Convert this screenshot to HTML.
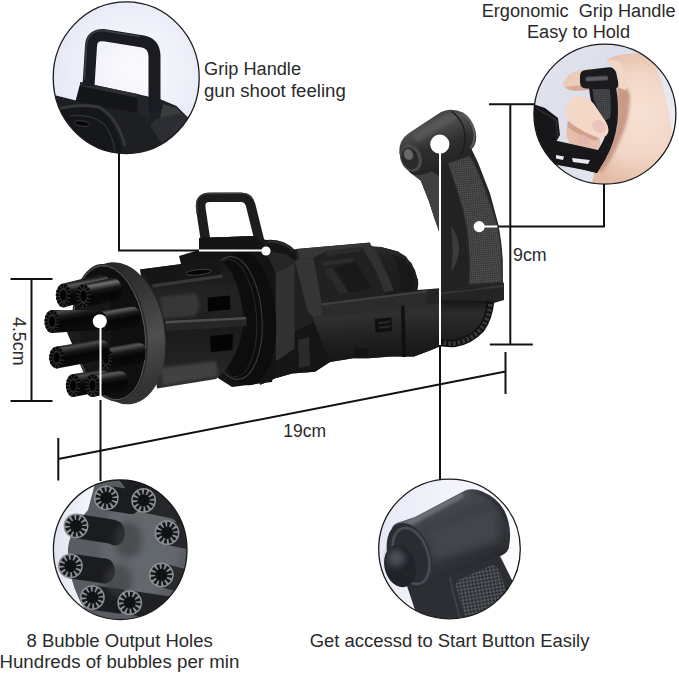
<!DOCTYPE html>
<html><head><meta charset="utf-8">
<style>
html,body{margin:0;padding:0;background:#fff;}
body{width:679px;height:673px;overflow:hidden;position:relative;font-family:"Liberation Sans",sans-serif;}
svg{position:absolute;left:0;top:0;display:block;}
text{font-family:"Liberation Sans",sans-serif;fill:#2a2a2a;}
</style></head><body>
<svg width="679" height="673" viewBox="0 0 679 673">
<defs>
<filter id="b1" x="-20%" y="-20%" width="140%" height="140%"><feGaussianBlur stdDeviation="0.6"/></filter>
<filter id="b2" x="-20%" y="-20%" width="140%" height="140%"><feGaussianBlur stdDeviation="1.5"/></filter>
<filter id="b3" x="-20%" y="-20%" width="140%" height="140%"><feGaussianBlur stdDeviation="3"/></filter>
<filter id="b5" x="-30%" y="-30%" width="160%" height="160%"><feGaussianBlur stdDeviation="5"/></filter>
<linearGradient id="cageG" x1="0" y1="0" x2="0" y2="1"><stop offset="0" stop-color="#1a1a1a"/><stop offset="0.3" stop-color="#2b2b2b"/><stop offset="0.55" stop-color="#202020"/><stop offset="0.8" stop-color="#2a2a2a"/><stop offset="1" stop-color="#383838"/></linearGradient>
<linearGradient id="ringG" x1="0" y1="0" x2="0.2" y2="1"><stop offset="0" stop-color="#242424"/><stop offset="0.35" stop-color="#343434"/><stop offset="0.7" stop-color="#4e4e4e"/><stop offset="1" stop-color="#333"/></linearGradient>
<clipPath id="barClip"><ellipse cx="109.8" cy="332.7" rx="35.1" ry="67.5" transform="rotate(-8 109.8 332.7)"/><rect x="30" y="260" width="80" height="150"/></clipPath>
<linearGradient id="motG" x1="0" y1="0" x2="0" y2="1"><stop offset="0" stop-color="#3c3c3c"/><stop offset="0.25" stop-color="#2c2c2c"/><stop offset="1" stop-color="#242424"/></linearGradient>
<linearGradient id="lowG" x1="0" y1="0" x2="0.1" y2="1"><stop offset="0" stop-color="#3a3a3a"/><stop offset="0.25" stop-color="#3f3f3f"/><stop offset="0.6" stop-color="#2a2a2a"/><stop offset="1" stop-color="#1b1b1b"/></linearGradient>
<linearGradient id="headG" x1="0.3" y1="0" x2="0.7" y2="1"><stop offset="0" stop-color="#3a3a3a"/><stop offset="0.25" stop-color="#505050"/><stop offset="0.55" stop-color="#2e2e2e"/><stop offset="1" stop-color="#1f1f1f"/></linearGradient>
<pattern id="chk" width="3" height="3" patternUnits="userSpaceOnUse" patternTransform="rotate(40)"><rect width="1.5" height="1.5" fill="#2c2c2c"/><rect x="1.5" y="1.5" width="1.5" height="1.5" fill="#2c2c2c"/></pattern>
<linearGradient id="undG" x1="0" y1="0" x2="0" y2="1"><stop offset="0" stop-color="#1c1c1c"/><stop offset="0.3" stop-color="#3a3a3a"/><stop offset="1" stop-color="#262626"/></linearGradient>
<filter id="dk" x="0" y="0" width="1" height="1" color-interpolation-filters="sRGB"><feComponentTransfer><feFuncR type="linear" slope="0.75"/><feFuncG type="linear" slope="0.75"/><feFuncB type="linear" slope="0.75"/></feComponentTransfer></filter>
<filter id="dk2" x="0" y="0" width="1" height="1" color-interpolation-filters="sRGB"><feComponentTransfer><feFuncR type="linear" slope="0.85"/><feFuncG type="linear" slope="0.85"/><feFuncB type="linear" slope="0.85"/></feComponentTransfer></filter>
<linearGradient id="bg7" gradientUnits="userSpaceOnUse" x1="106" y1="347.5" x2="109.96" y2="369.5"><stop offset="0" stop-color="#1c1c1c"/><stop offset="0.13" stop-color="#555"/><stop offset="0.34" stop-color="#1a1a1a"/><stop offset="0.55" stop-color="#060606"/><stop offset="1" stop-color="#0b0b0b"/></linearGradient>
<linearGradient id="bg1" gradientUnits="userSpaceOnUse" x1="63.4" y1="283.4" x2="67.72" y2="307.4"><stop offset="0" stop-color="#1c1c1c"/><stop offset="0.13" stop-color="#5a5a5a"/><stop offset="0.34" stop-color="#1a1a1a"/><stop offset="0.55" stop-color="#060606"/><stop offset="1" stop-color="#0b0b0b"/></linearGradient>
<linearGradient id="bg2" gradientUnits="userSpaceOnUse" x1="83.5" y1="284" x2="87.82" y2="308"><stop offset="0" stop-color="#1c1c1c"/><stop offset="0.13" stop-color="#707070"/><stop offset="0.34" stop-color="#1a1a1a"/><stop offset="0.55" stop-color="#060606"/><stop offset="1" stop-color="#0b0b0b"/></linearGradient>
<linearGradient id="bg8" gradientUnits="userSpaceOnUse" x1="99.5" y1="311.0" x2="103.28" y2="332.0"><stop offset="0" stop-color="#1c1c1c"/><stop offset="0.13" stop-color="#5c5c5c"/><stop offset="0.34" stop-color="#1a1a1a"/><stop offset="0.55" stop-color="#060606"/><stop offset="1" stop-color="#0b0b0b"/></linearGradient>
<linearGradient id="bg3" gradientUnits="userSpaceOnUse" x1="52" y1="310.0" x2="56.14" y2="333.0"><stop offset="0" stop-color="#1c1c1c"/><stop offset="0.13" stop-color="#4c4c4c"/><stop offset="0.34" stop-color="#1a1a1a"/><stop offset="0.55" stop-color="#060606"/><stop offset="1" stop-color="#0b0b0b"/></linearGradient>
<linearGradient id="bg4" gradientUnits="userSpaceOnUse" x1="56.7" y1="346.5" x2="60.660000000000004" y2="368.5"><stop offset="0" stop-color="#1c1c1c"/><stop offset="0.13" stop-color="#4c4c4c"/><stop offset="0.34" stop-color="#1a1a1a"/><stop offset="0.55" stop-color="#060606"/><stop offset="1" stop-color="#0b0b0b"/></linearGradient>
<linearGradient id="bg5" gradientUnits="userSpaceOnUse" x1="73.2" y1="374.0" x2="77.34" y2="397.0"><stop offset="0" stop-color="#1c1c1c"/><stop offset="0.13" stop-color="#4c4c4c"/><stop offset="0.34" stop-color="#1a1a1a"/><stop offset="0.55" stop-color="#060606"/><stop offset="1" stop-color="#0b0b0b"/></linearGradient>
<linearGradient id="bg6" gradientUnits="userSpaceOnUse" x1="92.5" y1="374.0" x2="96.64" y2="397.0"><stop offset="0" stop-color="#1c1c1c"/><stop offset="0.13" stop-color="#585858"/><stop offset="0.34" stop-color="#1a1a1a"/><stop offset="0.55" stop-color="#060606"/><stop offset="1" stop-color="#0b0b0b"/></linearGradient><radialGradient id="c1bg" cx="0.55" cy="0.45" r="0.6"><stop offset="0" stop-color="#fbfbfe"/><stop offset="0.55" stop-color="#eff0f9"/><stop offset="1" stop-color="#e2e5f4"/></radialGradient>
<linearGradient id="c3bg" x1="0" y1="0" x2="1" y2="0"><stop offset="0" stop-color="#dfe2f1"/><stop offset="0.3" stop-color="#f4f5fb"/><stop offset="1" stop-color="#fff"/></linearGradient>
<linearGradient id="c4bg" x1="0" y1="0" x2="1" y2="0.2"><stop offset="0" stop-color="#e4e7f5"/><stop offset="0.5" stop-color="#f3f4fb"/><stop offset="1" stop-color="#fcfcff"/></linearGradient>
<linearGradient id="c4head" gradientUnits="userSpaceOnUse" x1="430" y1="500" x2="462" y2="575"><stop offset="0" stop-color="#565a61"/><stop offset="0.18" stop-color="#43464d"/><stop offset="0.5" stop-color="#373a40"/><stop offset="0.8" stop-color="#303238"/><stop offset="1" stop-color="#26282d"/></linearGradient>
<pattern id="chk4" width="5" height="5" patternUnits="userSpaceOnUse" patternTransform="rotate(35)"><rect width="2.5" height="2.5" fill="#2a2c31"/><rect x="2.5" y="2.5" width="2.5" height="2.5" fill="#2a2c31"/></pattern>
<linearGradient id="c2bg" x1="0" y1="0" x2="1" y2="0.6"><stop offset="0" stop-color="#e2e4ef"/><stop offset="0.5" stop-color="#dcdfeb"/><stop offset="1" stop-color="#eceef6"/></linearGradient>
<radialGradient id="skinG" gradientUnits="userSpaceOnUse" cx="640" cy="115" r="70"><stop offset="0" stop-color="#f7e2d5"/><stop offset="0.6" stop-color="#f2d6c6"/><stop offset="1" stop-color="#e4bba6"/></radialGradient>
</defs>
<rect width="679" height="673" fill="#fff"/>
<g id="gun">
<g filter="url(#dk)">
<!-- rear body silhouette -->
<path fill="#2b2b2b" d="M266 240 L276 242 L293 250 L296 249 L370 242.5 L371 246.5 L381 247 L398 251.5 L411.5 263 L418 280 L417 290 L430 289 L504 283 L504 300 L492 303.5 L488.5 321 L478.5 336 L463 344 L443 346.5 L439 346.8 L430 350.6 L414 356.4 L391 356.4 L368.5 358.3 L353 358.3 L330 362 L315 371.7 L292 373.6 L277 377.5 L260 385 L250 300 Z"/>
<!-- interior behind strap -->
<path fill="#2d2d2d" d="M312 257 L371 247 L385 291 L322 303 Z"/>
<path fill="#3a3a3a" d="M325 251.5 L361 247 L361 251 L327 256 Z"/>
<path fill="#3d3d3d" d="M322 262 L352 258 L353 261.5 L323 266 Z"/>
<path fill="#383838" d="M324 270 L332 268 L348 292 L340 294 Z" filter="url(#b1)"/>
<path fill="#222" d="M334 268 L356 262 L372 288 L350 293 Z" filter="url(#b1)"/>
<!-- top plate -->
<path fill="#484848" d="M297 249 L370 242.8 L370.5 246 L327 251 L313 258 L299 259 Z"/>
<!-- motor housing -->
<path fill="url(#motG)" d="M371 246.5 L381 247 L398 251.5 L406 256.5 L415 270 L418.4 283 L417.2 291.5 L385 295 Z"/>
<path fill="#1f1f1f" d="M392 254 L404 259 L412 271 L414.5 283 L413 290 L400 291 Q402 270 392 254 Z" opacity="0.75"/>
<!-- rear arch band -->
<path fill="#424242" d="M360.7 246.8 L372 245.5 Q382 260 393.7 290.4 L384.2 292.5 Q376 266 360.7 246.8 Z"/>
<!-- rail -->
<path fill="#3a3a3a" d="M321.8 303.3 L427 290.2 L440 291 L440 303 L400.7 305.7 L365.4 310.4 L360.7 315 L321.8 315 Z"/>
<path fill="#555" d="M321.8 303.3 L427 290.2 L427 292.2 L321.8 305.5 Z"/>
<!-- lower cylinder -->
<path fill="url(#lowG)" d="M313.6 318 L321.8 315 L360.7 315 L365.4 310.4 L400.7 305.7 L440 303 L441 346 L430 350.6 L414 356.4 L391 356.4 L368.5 358.3 L353 358.3 L330 362 L318 368 Z"/>
<path fill="#141414" d="M374.8 319 L391.3 317.5 L392 331 L375.5 332.5 Z"/>
<path fill="#333" d="M378 322 L390 320.5 L390.3 323 L378.3 324.5 Z M378.5 326.5 L390.5 325 L390.8 327.5 L378.8 329 Z"/>
<path fill="#161616" d="M401 305.7 L404.5 305.5 L406 357 L402 357 Z"/>
<path fill="#1a1a1a" d="M354 349 L367 348 L368 355.5 L355 357 Z"/>
<!-- behind collar arc -->
<path fill="#1c1c1c" d="M266 240 Q283 238 295 250 L297 262 L286 254 L268 252 Z"/>
<path fill="#383838" d="M268 240.5 Q283 239 294 250 L292.5 251.5 Q283 242 268 243 Z"/>
<!-- strap -->
<path fill="#474747" d="M294.7 261 L299 259 L313.6 258.3 L321.8 303.3 L321.8 315 L314 318 L307.7 311 Z"/>
<!-- lower front of body -->
<path fill="#1d1d1d" d="M277 340 L314 322 L330 362 L315 371.7 L292 373.6 L277 377.5 L262 384 Z"/>
<path fill="#383838" d="M298 340 L309 337 L310 366 L299 368 Z"/>
<!-- base plate -->
<path fill="#303030" d="M427 291 L440.8 292 L503.5 284.5 L503.5 300 L440.8 303.5 L427 305 Z"/>
<path fill="#474747" d="M440.8 292 L503.5 284.5 L503.5 287 L440.8 294.5 Z"/>
<!-- under handle cylinder -->
<path fill="url(#undG)" d="M441 300 L492 301 Q490 320 480 330 Q468 341 441 343 Z"/>
<!-- belt -->
<path fill="none" stroke="#151515" stroke-width="7.5" d="M490.5 302 Q489 318 481 329 Q470 341 455 343.3 Q447 344 441 342"/>
<path fill="none" stroke="#4a4a4a" stroke-width="4.6" stroke-dasharray="2.8 1.9" d="M490.5 304 Q489 318 481 329 Q470 341 455 343.3 Q447 344 442 342"/>
</g>
<!-- ===== rear handle ===== -->
<path fill="#242424" d="M440.5 292 L439.5 233 L434.3 218 L429 201.6 L420.8 180.8 L411 173 L428 165 L471.5 149 L478 162.5 L490 193.5 L498.5 225 L502.5 260 L500.7 276 L503.7 283.5 L470 290 Z"/>
<!-- grip back lighter strip -->
<path fill="#404040" d="M411 173 L430 170 L442 178 L441 292 L440.5 292 L439.5 233 L434.3 218 L429 201.6 L420.8 180.8 Z"/>
<!-- groove region -->
<path fill="#222" d="M441 176 L449.5 163 Q458 190 463 222 Q468 250 468.5 278.5 L452 290 L440 291 L440 232 Z"/>
<path fill="#3a3a3a" d="M451 226 Q460 238 459 252 Q457 264 451 272 Q454 250 451 226 Z" filter="url(#b1)"/>
<!-- grip panel -->
<path fill="#5a5a5a" stroke="#2a2a2a" stroke-width="1.5" d="M447.5 163 L469.5 155.5 Q476 163 487.4 195.4 Q494 212 497.8 226.6 Q503 250 502 282.5 L468.8 284.8 Q470.5 258 466.6 228.6 Q463 210 460.3 201.6 Q455 184 447.5 163 Z"/>
<path fill="url(#chk)" d="M447.5 163 L469.5 155.5 Q476 163 487.4 195.4 Q494 212 497.8 226.6 Q503 250 502 282.5 L468.8 284.8 Q470.5 258 466.6 228.6 Q463 210 460.3 201.6 Q455 184 447.5 163 Z"/>
<!-- head cylinder -->
<path fill="url(#headG)" d="M411 173.5 Q402 166 399.3 153 Q398.5 140 409 133 L441 112 Q452 107.5 463 112.5 Q472 118 475.5 131 Q478 143 471.5 149.5 L449 162.5 L428 173 Q418 177 411 173.5 Z"/>
<path fill="#5c5c5c" opacity="0.7" d="M412 136 L444 115.5 Q452 112 460 115 L452 121 L418 142 Z" filter="url(#b2)"/>
<!-- right end arc -->
<path fill="none" stroke="#5a5a5a" stroke-width="2.2" d="M461 113.5 Q471 118 474 131 Q476 142 470.5 148" filter="url(#b1)"/>
<path fill="none" stroke="#1c1c1c" stroke-width="1.5" d="M452 111.5 Q463 120 465 134 Q466 146 461 154" filter="url(#b1)"/>
<ellipse cx="411" cy="158" rx="10.5" ry="14" fill="#4a4a4a" transform="rotate(-20 411 158)"/>
<ellipse cx="410" cy="158.5" rx="8.2" ry="11.2" fill="#292929" transform="rotate(-20 410 158.5)"/>
<ellipse cx="408.5" cy="154.5" rx="4.5" ry="5.8" fill="#686868" filter="url(#b1)" transform="rotate(-20 408.5 154.5)"/>

<!-- top carry handle -->
<path fill="none" stroke="#1d1d1d" stroke-width="9.6" stroke-linejoin="round" d="M205.5 240 L200.7 208 Q199.6 197.2 210 197.2 L241 197.2 Q248.5 197.2 250.6 205 L260.3 244"/>
<path fill="none" stroke="#3d3d3d" stroke-width="1.4" d="M197.3 214 L196.6 206 Q196.5 194 208 193.6 L241 193.4 Q249 193.5 252 198"/>
<path fill="#171717" d="M199.4 238 L255 236 L266 240 L266 250 L199.4 250 Z"/>
<path fill="#2c2c2c" d="M199.4 238 L255 236 L261 239.3 L206 241.5 Z"/>

<g filter="url(#dk2)">
<!-- collar block (hex) behind -->
<path fill="#181818" d="M179 256 L199 250 L199 238 L256 236 L267 254 L275.8 273 L275.8 361.5 L272 382 L232 387 L218 378 L190 300 Z"/>
<path fill="#3a3a3a" d="M275.8 273 L294.7 262.8 L294.7 348.7 L275.8 361.5 Z"/>
<path fill="#2d2d2d" d="M265 251 L285.9 254 L294.7 262.8 L275.8 273 Z"/>
<path fill="#1a1a1a" d="M275.8 361.5 L294.7 348.7 L296 372 L277 378 Z"/>
<!-- collar disc -->
<ellipse cx="245" cy="318.5" rx="31" ry="67" fill="#101010" transform="rotate(-4 245 318.5)"/>
<ellipse cx="234" cy="318" rx="28" ry="61.5" fill="none" stroke="#454545" stroke-width="1.1" transform="rotate(-4 234 318)"/>
<ellipse cx="231" cy="318" rx="25.5" ry="59" fill="none" stroke="#2e2e2e" stroke-width="1" transform="rotate(-4 231 318)"/>
<!-- cage body -->
<path fill="url(#cageG)" d="M140 269.5 L216 259.5 Q236 262 244 318 Q240 360 216 379 L157 388.5 Z"/>
<!-- top bar -->
<path fill="#1b1b1b" d="M140 269.5 L216 259.5 L222 274 L150 284 Z"/>
<path fill="#424242" d="M152 284.5 L222 274.5 L223 277.5 L153 287.5 Z"/>
<!-- slot -->
<ellipse cx="198.5" cy="272.3" rx="13" ry="2.6" fill="#060606" stroke="#555" stroke-width="0.8" transform="rotate(-6 198.5 272.3)"/>
<!-- upper panel reflection -->
<path fill="#4a4a4a" opacity="0.75" d="M160 297 L196 293 L200 305 L196 316 L163 319 Z" filter="url(#b2)"/>
<!-- windows -->
<path fill="#050505" d="M207.6 297.5 L230 295.5 L230.5 309.5 L208 311.5 Z"/>
<path fill="#050505" d="M210 336 L232.8 334 L232.5 350 L211 352 Z"/>
<!-- mid bar -->
<path fill="#2e2e2e" d="M165 321 L246 317 L247 326 L166 331 Z"/>
<path fill="#5c5c5c" d="M165 321 L246 317 L246.3 319.3 L165.3 323.5 Z"/>
<!-- lower reflection -->
<path fill="#555" opacity="0.8" d="M160 368 L216 361 L218 376 L163 385 Z" filter="url(#b2)"/>
</g>

<ellipse cx="120.6" cy="333.3" rx="44" ry="71.6" fill="url(#ringG)" transform="rotate(-9 120.6 333.3)"/>
<ellipse cx="110" cy="332.7" rx="37" ry="69.3" fill="#2a2a2a" transform="rotate(-8 110 332.7)"/>
<ellipse cx="109.8" cy="332.7" rx="35.1" ry="67.5" fill="#0f0f0f" stroke="#6a6a6a" stroke-width="0.8" transform="rotate(-8 109.8 332.7)"/>

<g clip-path="url(#barClip)">
<path fill="#1c1c1c" d="M66 330 L104 326 L104 348 L84 350 L80 345 L72 344 Z"/>
<path fill="#161616" d="M74 300 L110 296 L112 372 L86 374 Z"/>
<path fill="url(#bg7)" d="M106 347.5 L137 342.5 Q146.45 342.5 146.45 353 Q146.45 363.5 137 363.5 L106 369.5 Z"/>
<ellipse cx="106" cy="358.5" rx="6.5" ry="11" fill="#2b2b2b"/>
<ellipse cx="106" cy="358.5" rx="5.07" ry="8.8" fill="none" stroke="#050505" stroke-width="3.25" stroke-dasharray="2 1.4"/>
<ellipse cx="106" cy="358.5" rx="2.73" ry="4.95" fill="#020202"/>
<path fill="url(#bg1)" d="M63.4 283.4 L100 274.5 Q110.35 274.5 110.35 286 Q110.35 297.5 100 297.5 L63.4 307.4 Z"/>
<ellipse cx="63.4" cy="295.4" rx="7.4" ry="12" fill="#2b2b2b"/>
<ellipse cx="63.4" cy="295.4" rx="5.772" ry="9.600000000000001" fill="none" stroke="#050505" stroke-width="3.7" stroke-dasharray="2 1.4"/>
<ellipse cx="63.4" cy="295.4" rx="3.108" ry="5.4" fill="#020202"/>
<path fill="url(#bg2)" d="M83.5 284 L111 278.0 Q121.35 278.0 121.35 289.5 Q121.35 301.0 111 301.0 L83.5 308 Z"/>
<ellipse cx="83.5" cy="296" rx="7.4" ry="12" fill="#2b2b2b"/>
<ellipse cx="83.5" cy="296" rx="5.772" ry="9.600000000000001" fill="none" stroke="#050505" stroke-width="3.7" stroke-dasharray="2 1.4"/>
<ellipse cx="83.5" cy="296" rx="3.108" ry="5.4" fill="#020202"/>
<path fill="url(#bg8)" d="M99.5 311.0 L131 306.5 Q140.45 306.5 140.45 317 Q140.45 327.5 131 327.5 L99.5 332.0 Z"/>
<ellipse cx="99.5" cy="321.5" rx="7.4" ry="10.5" fill="#2b2b2b"/>
<ellipse cx="99.5" cy="321.5" rx="5.772" ry="8.4" fill="none" stroke="#050505" stroke-width="3.7" stroke-dasharray="2 1.4"/>
<ellipse cx="99.5" cy="321.5" rx="3.108" ry="4.7250000000000005" fill="#020202"/>
<path fill="url(#bg3)" d="M52 310.0 L96 310 Q105.0 310 105.0 320 Q105.0 330 96 330 L52 333.0 Z"/>
<ellipse cx="52" cy="321.5" rx="7.4" ry="11.5" fill="#2b2b2b"/>
<ellipse cx="52" cy="321.5" rx="5.772" ry="9.200000000000001" fill="none" stroke="#050505" stroke-width="3.7" stroke-dasharray="2 1.4"/>
<ellipse cx="52" cy="321.5" rx="3.108" ry="5.175" fill="#020202"/>
<path fill="url(#bg4)" d="M56.7 346.5 L100 339.5 Q109.45 339.5 109.45 350 Q109.45 360.5 100 360.5 L56.7 368.5 Z"/>
<ellipse cx="56.7" cy="357.5" rx="7.4" ry="11" fill="#2b2b2b"/>
<ellipse cx="56.7" cy="357.5" rx="5.772" ry="8.8" fill="none" stroke="#050505" stroke-width="3.7" stroke-dasharray="2 1.4"/>
<ellipse cx="56.7" cy="357.5" rx="3.108" ry="4.95" fill="#020202"/>
<path fill="url(#bg5)" d="M73.2 374.0 L100 370 Q109.9 370 109.9 381 Q109.9 392 100 392 L73.2 397.0 Z"/>
<ellipse cx="73.2" cy="385.5" rx="7.2" ry="11.5" fill="#2b2b2b"/>
<ellipse cx="73.2" cy="385.5" rx="5.6160000000000005" ry="9.200000000000001" fill="none" stroke="#050505" stroke-width="3.6" stroke-dasharray="2 1.4"/>
<ellipse cx="73.2" cy="385.5" rx="3.024" ry="5.175" fill="#020202"/>
<path fill="url(#bg6)" d="M92.5 374.0 L119 371.0 Q128.45 371.0 128.45 381.5 Q128.45 392.0 119 392.0 L92.5 397.0 Z"/>
<ellipse cx="92.5" cy="385.5" rx="7.2" ry="11.5" fill="#2b2b2b"/>
<ellipse cx="92.5" cy="385.5" rx="5.6160000000000005" ry="9.200000000000001" fill="none" stroke="#050505" stroke-width="3.6" stroke-dasharray="2 1.4"/>
<ellipse cx="92.5" cy="385.5" rx="3.024" ry="5.175" fill="#020202"/>
</g>
</g>
<g stroke="#111" stroke-width="2" fill="none">
  <path d="M10.5 279H52.5M10.5 401H52.5M31.5 279V401"/>
  <path d="M58.3 438V480.5M505.5 352V394M58.3 459L505.5 371.5"/>
  <path d="M489 104.3H534M510.3 104.3V344.6M489.8 344.6H532.8"/>
  <path d="M119 153V250.5H199"/>
  <path d="M604 184V226.5H497.5"/>
  <path d="M100.5 400V481"/>
  <path d="M440 345V480"/>
</g>
<g stroke="#fff" stroke-width="2" fill="none">
  <path d="M199 250.5H266"/>
  <path d="M479 226.5H497.5"/>
  <path d="M100.5 321V400"/>
  <path d="M440 144V345"/>
</g>
<g fill="#fff">
  <circle cx="266" cy="251" r="4.6"/>
  <circle cx="479.2" cy="226.6" r="5.6"/>
  <circle cx="99.8" cy="321.3" r="7"/>
  <circle cx="439.8" cy="144.2" r="9.6"/>
</g>

<g id="c1">
<clipPath id="c1clip"><ellipse cx="126.2" cy="77.7" rx="73" ry="75.8"/></clipPath>
<g clip-path="url(#c1clip)">
  <rect x="50" y="0" width="152" height="156" fill="url(#c1bg)"/>
  <!-- dark mass -->
  <path fill="#1e1f23" d="M50 94 L78 101 L80.4 82 L137 94 L148 96.5 L161 99.5 L176.5 106 L189 118.5 L205 125 L205 160 L50 160 Z"/>
  <!-- right lighter top face -->
  <path fill="#3a3c42" d="M163 104 L176.5 108 L182 114 L160 118 Z"/>
  <path fill="#2c2e33" d="M158 118 L182 113 L189 118.5 L200 128 L165 150 L150 125 Z"/>
  <!-- base block -->
  <path fill="#2b2d32" d="M80.4 82 L137.5 94 L137.5 98 L79.5 86 Z"/>
  <path fill="#141518" d="M79.5 86 L137.5 98 L137.5 113 L75.5 101 Z"/>
  <path fill="#23252a" d="M137.5 94 L150 100 L150 118 L137.5 113 Z"/>
  <!-- arch of front ring -->
  <path fill="none" stroke="#34363b" stroke-width="3" d="M58 109 Q80 103 99 107 Q118 118 125 146"/>
  <path fill="#16171a" d="M58 111 Q80 105 98 109 Q116 120 122 148 L122 160 L50 160 Z"/>
  <path fill="none" stroke="#3a3c42" stroke-width="1" d="M70 116 Q90 113 104 124 Q113 135 115 152"/>
  <ellipse cx="82" cy="123.5" rx="8" ry="2.6" fill="#050506" stroke="#44464c" stroke-width="0.8" transform="rotate(8 82 123.5)"/>
  <!-- handle loop -->
  <path fill="none" stroke="#1a1c21" stroke-width="12" stroke-linejoin="round" d="M88.5 86 L91 46 Q91.5 35 103 35 L143 41.5 Q154 43.5 154.5 56 L154.5 112"/>
  <path fill="none" stroke="#3b3e46" stroke-width="1.6" d="M84.5 80 L86.5 45 Q88 31 102 30.5 L140 36.5" filter="url(#b1)"/>
</g>
<ellipse cx="126.2" cy="77.7" rx="73" ry="75.8" fill="none" stroke="#1a1a1a" stroke-width="1.3"/>
</g>

<g id="c2">
<clipPath id="c2clip"><ellipse cx="604.9" cy="114.1" rx="71" ry="70"/></clipPath>
<g clip-path="url(#c2clip)">
  <rect x="530" y="40" width="150" height="148" fill="url(#c2bg)"/>
  <!-- palm / back of hand -->
  <path fill="url(#skinG)" d="M606 61.5 Q612 55 624 54.5 L637 53 Q650 55 656 66 Q666 92 671.5 128 Q672 148 663 158 L648 190 L590 190 L594 174 Q606 160 612 140 L618 120 L618 70 Z"/>
  <!-- shadow right of stem -->
  <path fill="#b98572" opacity="0.75" d="M617 86 Q628 84 630 96 Q630 120 620 140 Q612 160 602 172 L598 170 Q610 150 616 128 Z" filter="url(#b2)"/>
  <!-- index finger (top-left, behind head) -->
  <path fill="#eccbb9" d="M562.5 85 Q563 80 570 74 Q578 69.5 590 68.5 L592 89 L578 90 Q564 90 562.5 85 Z"/>
  <path fill="#d5a08a" opacity="0.8" d="M565 87 Q575 86 590 84 L590 90 L576 91 Q567 90 565 87 Z" filter="url(#b1)"/>
  <!-- ring finger -->
  <path fill="#e6bfac" d="M567 128 Q574 124 586 130 L600 138 Q602 150 592 152 L574 147 Q564 140 567 128 Z"/>
  <!-- handle stem -->
  <path fill="#19191b" d="M589 87 L616 87 Q619 104 617.5 122 Q615 142 606 158 L597 173 L556 163 L553 140 L598 150 Q607 136 606 128 Q600 118 594.5 110 Q590 102 589 87 Z"/>
  <path fill="#56585d" d="M592.5 89 L609.5 89 Q611.5 104 610 118 L604.5 120.5 Q598 110 594 100 Z"/>
  <path fill="url(#chk)" d="M592.5 89 L609.5 89 Q611.5 104 610 118 L604.5 120.5 Q598 110 594 100 Z"/>
  <!-- middle finger -->
  <path fill="#f3d7c7" d="M566 108 Q568 98 578 95.5 Q588 96 594 104 L606 122 Q611 131 606 136 Q598 140 586 134 L572 125 Q564 118 566 108 Z"/>
  <path fill="#cf9883" opacity="0.8" d="M568 121 Q582 132 598 137.5 L596 141 Q580 136 567 127 Z" filter="url(#b1)"/>
  <!-- nails -->
  <ellipse cx="599" cy="126.5" rx="7.5" ry="5.8" fill="#ebc3bd" transform="rotate(38 599 126.5)"/>
  <ellipse cx="583" cy="140" rx="6" ry="5" fill="#e5b3ab" transform="rotate(25 583 140)"/>
  <!-- handle head -->
  <path fill="#1b1b1d" d="M580 76 Q580 70.5 586 70 L609 67.3 Q614 67 616 72 L618.5 83 Q619 88.5 614 88.5 L586 88.5 Q580 88 580 82 Z"/>
  <rect x="585.5" y="76.5" width="22.5" height="4.2" rx="1.5" fill="#5b5c62" filter="url(#b1)" transform="rotate(-3 596 78)"/>
  <!-- thumb over head right side -->
  <path fill="#f2d5c4" d="M606 61.5 Q612 58 620 62 Q628 74 626 90 L619 88 L617 72 Q612 66 606 61.5 Z"/>
  <!-- gun body at left -->
  <path fill="#17171a" d="M530 103 L545 108 L558 118 L560 135 L556 142 L560 150 L575 152 L598 150 L606 158 L597 173 L585 170 L552 164 L530 140 Z"/>
  <path fill="#e8e9f0" d="M556 155 L564 156.5 L563 160 L556 158.5 Z M572 158 L590 160 L588 164 L573 162 Z"/>
  <path fill="none" stroke="#3a3a3e" stroke-width="1" d="M536 108 L556 120 L558 138"/>
</g>
<ellipse cx="604.9" cy="114.1" rx="71" ry="70" fill="none" stroke="#1a1a1a" stroke-width="1.3"/>
</g>

<g id="c3">
<clipPath id="c3clip"><ellipse cx="120.2" cy="549.8" rx="66.8" ry="69.8"/></clipPath>
<g clip-path="url(#c3clip)">
<rect x="50" y="478" width="140" height="144" fill="url(#c3bg)"/>
<path fill="#595c62" d="M97 476 Q92 495 88 510 Q70 530 68 548 Q67 575 80 601 Q90 618 100 628 L200 628 L200 476 Z"/>
<ellipse cx="140" cy="548" rx="40" ry="50" fill="#64676d" filter="url(#b3)"/>
<path fill="#1d1e22" d="M118 478 L190 478 L190 540 L175 520 L150 505 L128 492 Z"/>
<path fill="#1b1c20" d="M74.1 538.1 L112.1 544.1 L115.9 519.9 L77.9 513.9 Z"/>
<ellipse cx="115" cy="533" rx="10" ry="12.5" fill="#1b1c20"/>
<path fill="#1b1c20" d="M68.6 578.2 L102.6 583.2 L106.2 558.8 L72.2 553.8 Z"/>
<ellipse cx="105" cy="571" rx="10" ry="12.5" fill="#1b1c20"/>
<path fill="#1b1c20" d="M104.4 510.1 L130.4 514.1 L134.2 489.7 L108.2 485.7 Z"/>
<ellipse cx="132" cy="502" rx="8" ry="12" fill="#1b1c20"/>
<path fill="#26272b" d="M141.2 512.2 L181.2 520.2 L186.0 496.6 L146.0 488.6 Z"/>
<path fill="#26272b" d="M164.6 544.5 L194.6 550.5 L199.4 526.9 L169.4 520.9 Z"/>
<path fill="#2a2b2f" d="M158.2 586.6 L188.2 594.6 L194.4 571.4 L164.4 563.4 Z"/>
<path fill="#1b1c20" d="M90.8 609.8 L120.8 613.8 L124.0 589.4 L94.0 585.4 Z"/>
<path fill="#202125" d="M127.9 614.6 L167.9 620.6 L171.5 596.8 L131.5 590.8 Z"/>
<ellipse cx="128" cy="540" rx="14" ry="18" fill="#3a3c41" opacity="0.6" filter="url(#b3)"/>
<ellipse cx="118" cy="580" rx="14" ry="16" fill="#3a3c41" opacity="0.6" filter="url(#b3)"/>
<circle cx="106.3" cy="497.9" r="12.4" fill="#8d8f96"/>
<circle cx="106.3" cy="497.9" r="8.4" fill="none" stroke="#17181b" stroke-width="5" stroke-dasharray="2.6 1.8"/>
<circle cx="106.3" cy="497.9" r="6.2" fill="#111215"/>
<circle cx="143.6" cy="500.4" r="12.4" fill="#8d8f96"/>
<circle cx="143.6" cy="500.4" r="8.4" fill="none" stroke="#17181b" stroke-width="5" stroke-dasharray="2.6 1.8"/>
<circle cx="143.6" cy="500.4" r="6.2" fill="#111215"/>
<circle cx="76" cy="526" r="12.4" fill="#8d8f96"/>
<circle cx="76" cy="526" r="8.4" fill="none" stroke="#17181b" stroke-width="5" stroke-dasharray="2.6 1.8"/>
<circle cx="76" cy="526" r="6.2" fill="#111215"/>
<circle cx="167" cy="532.7" r="12.4" fill="#8d8f96"/>
<circle cx="167" cy="532.7" r="8.4" fill="none" stroke="#17181b" stroke-width="5" stroke-dasharray="2.6 1.8"/>
<circle cx="167" cy="532.7" r="6.2" fill="#111215"/>
<circle cx="70.4" cy="566" r="12.4" fill="#8d8f96"/>
<circle cx="70.4" cy="566" r="8.4" fill="none" stroke="#17181b" stroke-width="5" stroke-dasharray="2.6 1.8"/>
<circle cx="70.4" cy="566" r="6.2" fill="#111215"/>
<circle cx="161.3" cy="575" r="12.4" fill="#8d8f96"/>
<circle cx="161.3" cy="575" r="8.4" fill="none" stroke="#17181b" stroke-width="5" stroke-dasharray="2.6 1.8"/>
<circle cx="161.3" cy="575" r="6.2" fill="#111215"/>
<circle cx="92.4" cy="597.6" r="12.4" fill="#8d8f96"/>
<circle cx="92.4" cy="597.6" r="8.4" fill="none" stroke="#17181b" stroke-width="5" stroke-dasharray="2.6 1.8"/>
<circle cx="92.4" cy="597.6" r="6.2" fill="#111215"/>
<circle cx="129.7" cy="602.7" r="12.4" fill="#8d8f96"/>
<circle cx="129.7" cy="602.7" r="8.4" fill="none" stroke="#17181b" stroke-width="5" stroke-dasharray="2.6 1.8"/>
<circle cx="129.7" cy="602.7" r="6.2" fill="#111215"/>
</g>
<ellipse cx="120.2" cy="549.8" rx="66.8" ry="69.8" fill="none" stroke="#1a1a1a" stroke-width="1.3"/>
</g>
<g id="c4">
<clipPath id="c4clip"><ellipse cx="449.5" cy="549" rx="70.8" ry="69.8"/></clipPath>
<clipPath id="c4headclip"><path d="M391.5 530 Q392 524 400 522 L415 517 L466 490 Q474 488 482 491.5 Q498 498 505 512 Q513 530 508.5 549 Q506 555 495 558 L451 573 L428 580 L400 560 Z"/></clipPath>
<g clip-path="url(#c4clip)">
  <rect x="375" y="476" width="150" height="148" fill="url(#c4bg)"/>
  <!-- grip neck / lower -->
  <path fill="#2c2e34" d="M405 580 L450 570 L500 556 L512 580 L525 625 L420 625 Z"/>
  <!-- textured panel -->
  <path fill="#55585e" d="M457.5 580.5 L492 565 Q497 566 500 572 L516 625 L468 625 Q460 600 455.5 585 Z"/>
  <path fill="url(#chk4)" d="M457.5 580.5 L492 565 Q497 566 500 572 L516 625 L468 625 Q460 600 455.5 585 Z"/>
  <path fill="none" stroke="#44474d" stroke-width="1.5" d="M450 577 Q452 590 462 625"/>
  <!-- head cylinder -->
  <path fill="url(#c4head)" d="M391.5 530 Q392 524 400 522 L415 517 L466 490 Q474 488 482 491.5 Q498 498 505 512 Q513 530 508.5 549 Q506 555 495 558 L451 573 L428 580 L400 560 Z"/>
  <g clip-path="url(#c4headclip)">
    <path fill="#71767e" opacity="0.85" d="M394 526 L462 492.5 L464 497 L402 531 Z" filter="url(#b2)"/>
    <path fill="#15161a" d="M466 488 Q500 490 514 530 L512 500 L490 484 Z" filter="url(#b3)"/>
    <path fill="#44474d" opacity="0.9" d="M428 532 L494 507 Q501 522 498 541 L434 561 Z" filter="url(#b3)"/>
    <path fill="#1a1b1f" opacity="0.55" d="M420 586 L452 575 L496 560 L510 552 L512 570 L430 592 Z" filter="url(#b2)"/>
  </g>
  <!-- end cap -->
  <ellipse cx="409" cy="555" rx="21" ry="33" fill="#2a2c31" transform="rotate(-18 409 555)"/>
  <ellipse cx="411" cy="556" rx="17" ry="29" fill="none" stroke="#4b4e55" stroke-width="2.5" transform="rotate(-18 411 556)" filter="url(#b1)"/>
  <!-- button -->
  <ellipse cx="400" cy="566" rx="15.5" ry="21.5" fill="#222328" transform="rotate(-15 400 566)"/>
  <ellipse cx="396" cy="558" rx="9" ry="9" fill="#565960" opacity="0.8" filter="url(#b3)"/>
</g>
<ellipse cx="449.5" cy="549" rx="70.8" ry="69.8" fill="none" stroke="#1a1a1a" stroke-width="1.3"/>
</g>

<g font-size="18">
  <text x="204" y="74.7" textLength="97" lengthAdjust="spacingAndGlyphs">Grip Handle</text>
  <text x="204" y="96.7" textLength="141.8" lengthAdjust="spacingAndGlyphs">gun shoot feeling</text>
  <text x="481.7" y="16.9" textLength="193.9" lengthAdjust="spacingAndGlyphs" xml:space="preserve">Ergonomic  Grip Handle</text>
  <text x="527" y="37.5" textLength="103" lengthAdjust="spacingAndGlyphs">Easy to Hold</text>
  <text x="513" y="260.5" textLength="33.7" lengthAdjust="spacingAndGlyphs">9cm</text>
  <text x="283.2" y="437.2" textLength="42.8" lengthAdjust="spacingAndGlyphs">19cm</text>
  <text transform="translate(12.8 317) rotate(90)" textLength="48.5" lengthAdjust="spacingAndGlyphs">4.5cm</text>
  <text x="26.5" y="646.9" textLength="186.3" lengthAdjust="spacingAndGlyphs">8 Bubble Output Holes</text>
  <text x="-0.5" y="668.2" textLength="239.8" lengthAdjust="spacingAndGlyphs">Hundreds of bubbles per min</text>
  <text x="309.7" y="647.4" textLength="279.7" lengthAdjust="spacingAndGlyphs">Get accessd to Start Button Easily</text>
</g>

</svg>
</body></html>
